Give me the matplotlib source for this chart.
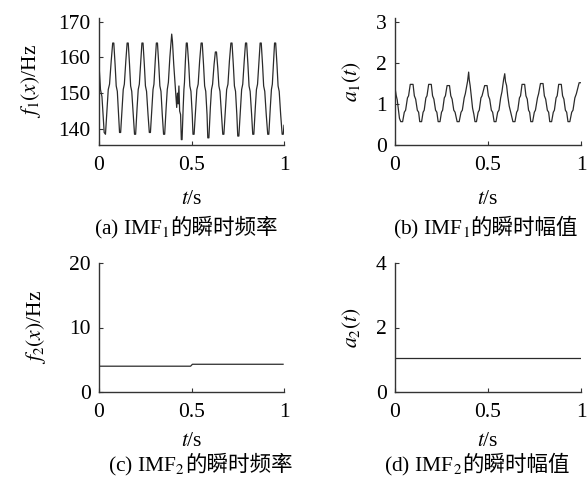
import matplotlib
matplotlib.use("Agg")
import matplotlib.pyplot as plt

plt.rcParams['mathtext.fontset'] = 'stix'
plt.rcParams['font.family'] = ['Liberation Serif', 'Noto Sans CJK SC']

# ---------------- data ----------------
# (a) IMF1 instantaneous frequency
t1 = [0.000, 0.008, 0.016, 0.028, 0.035,
      0.044, 0.050, 0.057, 0.066, 0.074, 0.080, 0.087, 0.093, 0.099, 0.106,
      0.111, 0.117, 0.125, 0.131, 0.137, 0.145, 0.152, 0.158, 0.165, 0.171, 0.177, 0.185,
      0.192, 0.198, 0.206, 0.212, 0.218, 0.226, 0.232, 0.238, 0.245, 0.251, 0.257, 0.265,
      0.272, 0.278, 0.286, 0.292, 0.297, 0.304, 0.310, 0.316, 0.323, 0.329, 0.335, 0.342,
      0.349, 0.355, 0.363, 0.369, 0.375, 0.383, 0.390, 0.393, 0.397,
      0.404, 0.412, 0.420, 0.424, 0.428, 0.432, 0.436, 0.441, 0.445,
      0.449, 0.455, 0.459, 0.462, 0.467, 0.472, 0.477, 0.485, 0.491, 0.497, 0.504,
      0.508, 0.514, 0.523, 0.529, 0.536, 0.544, 0.552, 0.558, 0.565, 0.571, 0.577, 0.584,
      0.588, 0.594, 0.602, 0.608, 0.614, 0.622, 0.629, 0.635, 0.642, 0.648, 0.654, 0.662,
      0.669, 0.675, 0.684, 0.690, 0.697, 0.705, 0.713, 0.719, 0.726, 0.732, 0.738, 0.745,
      0.750, 0.756, 0.765, 0.771, 0.777, 0.785, 0.792, 0.798, 0.805, 0.811, 0.817, 0.825,
      0.831, 0.837, 0.845, 0.851, 0.857, 0.865, 0.871, 0.877, 0.884, 0.890, 0.896, 0.904,
      0.912, 0.918, 0.926, 0.932, 0.937, 0.944, 0.949, 0.955, 0.962, 0.968, 0.974, 0.982,
      0.990, 0.996, 1.000]
f1 = [158, 151, 149, 139, 138.5,
      146, 151, 152.5, 159, 164, 164, 158, 152, 150.5, 144,
      139, 139, 146, 151, 152.5, 159, 164, 164, 158, 152, 150.5, 144,
      138.5, 138.5, 146, 151, 152.5, 159, 164, 164, 158, 152, 150.5, 144,
      139, 139, 146, 151, 152.5, 159, 164, 164, 158, 152, 150.5, 144,
      138.5, 138.5, 146, 151, 153, 160, 164.5, 166.5, 164.5,
      158, 152, 146, 150, 147, 152, 145, 144, 137,
      137, 146, 151, 153, 159, 164, 164, 158, 152, 150.5, 144,
      138.5, 138.5, 146, 151, 152.5, 159, 164, 164, 158, 152, 150.5, 144,
      137.5, 137.5, 146, 151, 152.5, 158, 161.5, 161.5, 157, 152, 150.5, 144,
      138.5, 138.5, 146, 151, 152.5, 159, 164, 164, 158, 152, 150.5, 144,
      138, 138, 146, 151, 152.5, 159, 164, 164, 158, 152, 150.5, 144,
      138.5, 138.5, 146, 151, 152.5, 159, 164, 164, 158, 152, 150.5, 144,
      138.5, 138.5, 146, 151, 152.5, 159, 164, 164, 158, 152, 150.5, 144,
      138.5, 138.5, 141]

# (b) IMF1 instantaneous amplitude
t2 = [0.000, 0.006, 0.012, 0.024, 0.031, 0.041,
      0.050, 0.057, 0.067, 0.073, 0.082, 0.097, 0.104, 0.111, 0.120, 0.127, 0.133, 0.143,
      0.151, 0.157, 0.166, 0.172, 0.181, 0.195, 0.202, 0.209, 0.218, 0.225, 0.232, 0.242,
      0.250, 0.256, 0.265, 0.271, 0.280, 0.293, 0.300, 0.307, 0.316, 0.323, 0.334, 0.345,
      0.355, 0.362, 0.372, 0.378, 0.390, 0.396, 0.399, 0.404, 0.410, 0.417, 0.424, 0.430, 0.438,
      0.447, 0.453, 0.462, 0.468, 0.482, 0.495, 0.502, 0.509, 0.518, 0.525, 0.533, 0.543,
      0.552, 0.559, 0.568, 0.575, 0.584, 0.590, 0.594, 0.600, 0.606, 0.614, 0.622, 0.634, 0.645,
      0.654, 0.660, 0.669, 0.675, 0.683, 0.697, 0.704, 0.711, 0.718, 0.724, 0.730, 0.740,
      0.749, 0.755, 0.766, 0.772, 0.782, 0.796, 0.803, 0.810, 0.819, 0.826, 0.832, 0.842,
      0.851, 0.857, 0.866, 0.872, 0.880, 0.894, 0.901, 0.908, 0.916, 0.923, 0.930, 0.940,
      0.950, 0.957, 0.967, 0.975, 0.990, 1.000]
a1 = [1.40, 1.22, 1.10, 0.65, 0.57, 0.57,
      0.80, 0.85, 1.15, 1.20, 1.48, 1.48, 1.20, 1.12, 0.85, 0.80, 0.57, 0.57,
      0.80, 0.85, 1.15, 1.20, 1.48, 1.48, 1.20, 1.12, 0.85, 0.80, 0.57, 0.57,
      0.80, 0.85, 1.15, 1.20, 1.45, 1.45, 1.20, 1.12, 0.85, 0.80, 0.57, 0.57,
      0.80, 0.85, 1.15, 1.25, 1.55, 1.78, 1.60, 1.45, 1.20, 0.90, 0.75, 0.57, 0.57,
      0.80, 0.85, 1.15, 1.20, 1.45, 1.45, 1.20, 1.12, 0.85, 0.80, 0.57, 0.57,
      0.80, 0.85, 1.15, 1.30, 1.60, 1.74, 1.55, 1.45, 1.20, 0.95, 0.80, 0.57, 0.57,
      0.80, 0.85, 1.15, 1.20, 1.48, 1.48, 1.20, 1.12, 0.85, 0.80, 0.57, 0.57,
      0.80, 0.85, 1.15, 1.25, 1.50, 1.50, 1.20, 1.12, 0.85, 0.80, 0.57, 0.57,
      0.80, 0.85, 1.15, 1.20, 1.48, 1.48, 1.20, 1.12, 0.85, 0.80, 0.57, 0.57,
      0.80, 0.85, 1.15, 1.25, 1.52, 1.52]

# (c) IMF2 instantaneous frequency
t3 = [0.0, 0.495, 0.505, 0.995]
f2 = [4.0, 4.0, 4.3, 4.3]

# (d) IMF2 instantaneous amplitude
t4 = [0.0, 1.0]
a2 = [1.05, 1.05]

xticks = [0, 0.5, 1]
xticklabels = ['0', '0.5', '1']
yticks_a = [140, 150, 160, 170]
yticks_b = [0, 1, 2, 3]
yticks_c = [0, 10, 20]
yticks_d = [0, 2, 4]

ylabels = [r'$f_1(x)$/Hz', r'$a_1(t)$', r'$f_2(x)$/Hz', r'$a_2(t)$']
cap_latin = [r'(a) IMF$_1$', r'(b) IMF$_1$', r'(c) IMF$_2$', r'(d) IMF$_2$']
cap_cjk = ['的瞬时频率', '的瞬时幅值', '的瞬时频率', '的瞬时幅值']

# ---------------- figure ----------------
W, H = 587, 482
fig = plt.figure(figsize=(W / 100, H / 100), dpi=100)
fig.patch.set_facecolor('white')


def rect(x0, y_top, x1, y_bot):
    return [x0 / W, 1 - y_bot / H, (x1 - x0) / W, (y_bot - y_top) / H]


FS = 15.5
axes_px = [(99, 18, 284, 145), (395, 18, 581, 145),
           (99, 263, 284, 392), (395, 263, 581, 392)]
series = [(t1, f1), (t2, a1), (t3, f2), (t4, a2)]
ylims = [(135.5, 171), (0, 3.1), (0, 20), (0, 4)]
yticks = [yticks_a, yticks_b, yticks_c, yticks_d]
ylab_x = [31, 352, 36, 352]
lcol = '#2b2b2b'

for i, (px, (tx, ty)) in enumerate(zip(axes_px, series)):
    ax = fig.add_axes(rect(*px))
    ax.plot(tx, ty, color=lcol, lw=0.9)
    ax.set_xlim(0, 1)
    ax.set_ylim(*ylims[i])
    ax.set_xticks(xticks)
    ax.set_xticklabels(xticklabels)
    ax.set_yticks(yticks[i])
    for s in ('top', 'right'):
        ax.spines[s].set_visible(False)
    for s in ('left', 'bottom'):
        ax.spines[s].set_color('#333333')
        ax.spines[s].set_linewidth(1.0)
    ax.tick_params(axis='both', direction='in', length=3, width=0.8,
                   colors='#333333', labelcolor='black', labelsize=FS)
    ax.tick_params(axis='x', pad=8)
    ax.tick_params(axis='y', pad=6)
    x0, yt, x1, yb = px
    cy = (yt + yb) / 2
    fig.text(ylab_x[i] / W, 1 - cy / H, ylabels[i], rotation=90,
             ha='center', va='center', fontsize=FS, family='Liberation Serif')
    row_top = i < 2
    ty_lab = 199 if row_top else 441
    ty_cap = 234 if row_top else 471
    cx = (x0 + x1) / 2
    fig.text(cx / W, 1 - ty_lab / H, r'$t$/s', ha='center', va='center',
             fontsize=FS, family='Liberation Serif')
    split = [170, 470, 185, 462][i]
    fig.text(split / W, 1 - ty_cap / H, cap_latin[i], ha='right',
             va='baseline', fontsize=FS, family='Liberation Serif')
    fig.text(split / W, 1 - ty_cap / H, cap_cjk[i], ha='left',
             va='baseline', fontsize=FS, family='Noto Sans CJK SC')

fig.savefig('out.png', dpi=100, facecolor='white')
